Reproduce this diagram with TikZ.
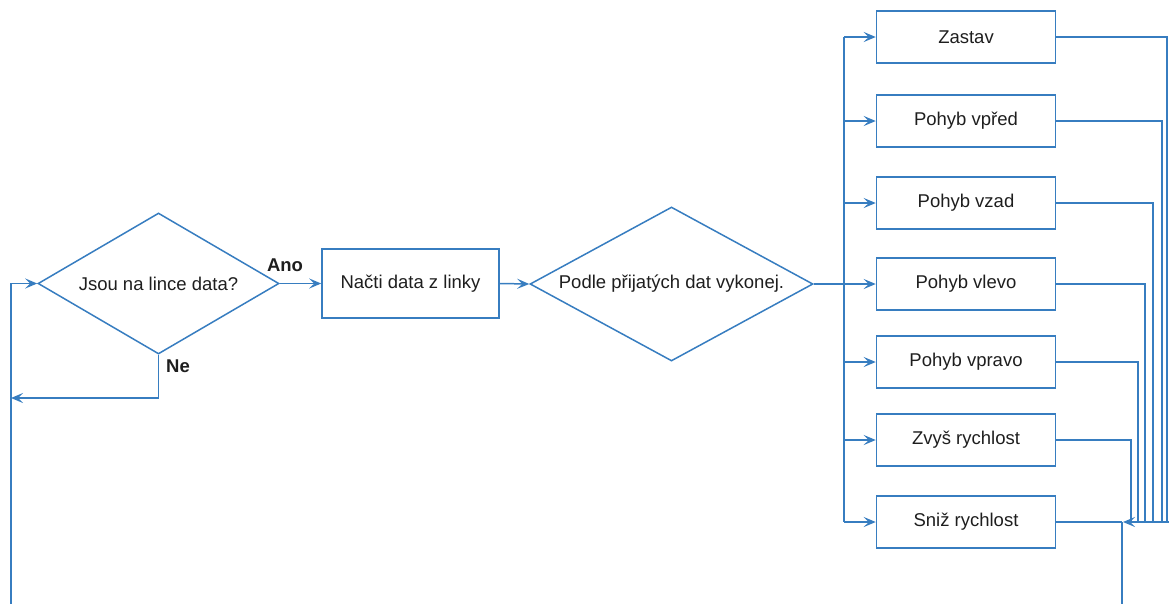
\documentclass[tikz,border=0pt]{standalone}
\usepackage{fontspec}
\setmainfont{Liberation Sans}
\usetikzlibrary{shapes.geometric,arrows.meta}
\definecolor{flowblue}{RGB}{55,125,192}
\definecolor{ink}{RGB}{30,30,30}

\begin{document}
\begin{tikzpicture}[x=1pt,y=-1pt,
  every node/.style={font=\fontsize{18.5}{22}\selectfont, text=ink},
  line/.style={draw=flowblue, line width=1.5pt},
  arr/.style={line, -{Stealth[length=12pt,width=10pt,inset=5pt]}},
  actbox/.style={draw=flowblue, line width=1.5pt, minimum width=179pt,
                 minimum height=52pt, inner sep=0pt},
  procbox/.style={draw=flowblue, line width=1.5pt, inner sep=0pt},
  decide/.style={diamond, draw=flowblue, line width=1.5pt, inner sep=0pt},
  tag/.style={font=\bfseries\fontsize{18.5}{22}\selectfont}]

\useasboundingbox (0,0) rectangle (1169,603);

% main chain
\node[decide, aspect=1.71, minimum width=241pt, minimum height=141pt]
  (ask) at (158.5,283.5) {Jsou na lince data?};
\node[procbox, minimum width=177pt, minimum height=69pt]
  (read) at (410.5,283.5) {Načti data z linky};
\node[decide, aspect=1.84, minimum width=283pt, minimum height=154pt]
  (act) at (671.5,284) {Podle přijatých dat vykonej.};

\node[tag] (yes) at (285,265) {Ano};
\node[tag] (no) at (178,366) {Ne};

% command boxes
\node[actbox] (stop)  at (966,37)  {Zastav};
\node[actbox] (fwd)   at (966,121) {Pohyb vpřed};
\node[actbox] (back)  at (966,203) {Pohyb vzad};
\node[actbox] (left)  at (966,284) {Pohyb vlevo};
\node[actbox] (right) at (966,362) {Pohyb vpravo};
\node[actbox] (fast)  at (966,440) {Zvyš rychlost};
\node[actbox] (slow)  at (966,522) {Sniž rychlost};

% helper points for the bus and the return loop
\coordinate (fork) at (844,284);
\coordinate (busTop) at (844,37);
\coordinate (busBot) at (844,522);
\coordinate (mergeIn) at (1169,522);
\coordinate (drop) at (1122,522);
\coordinate (loopBot) at (11,612);
\coordinate (noTurn) at (158.5,398);

% forward connections
\draw[arr] (ask.east) -- (read.west);
\draw[arr] (read.east) -- (act.west);
\draw[line] (act.east) -- (fork);
\draw[line] (busTop) -- (busBot);
\foreach \b in {stop,fwd,back,left,right,fast,slow}
  \draw[arr] (\b.west -| fork) -- (\b.west);

% returns from the command boxes
\draw[line] (stop.east)  -| (1167,522);
\draw[line] (fwd.east)   -| (1162,522);
\draw[line] (back.east)  -| (1153,522);
\draw[line] (left.east)  -| (1145,522);
\draw[line] (right.east) -| (1138,522);
\draw[line] (fast.east)  -| (1131,522);
\draw[arr] (mergeIn) -- (1123,522);
\draw[line] (slow.east) -- (drop);

% loop back to the test
\draw[arr] (drop) -- (drop |- loopBot) -- (loopBot) -- (ask.west -| loopBot) -- (ask.west);
\draw[arr] (ask.south) -- (noTurn) -- (noTurn -| loopBot);
\end{tikzpicture}
\end{document}
